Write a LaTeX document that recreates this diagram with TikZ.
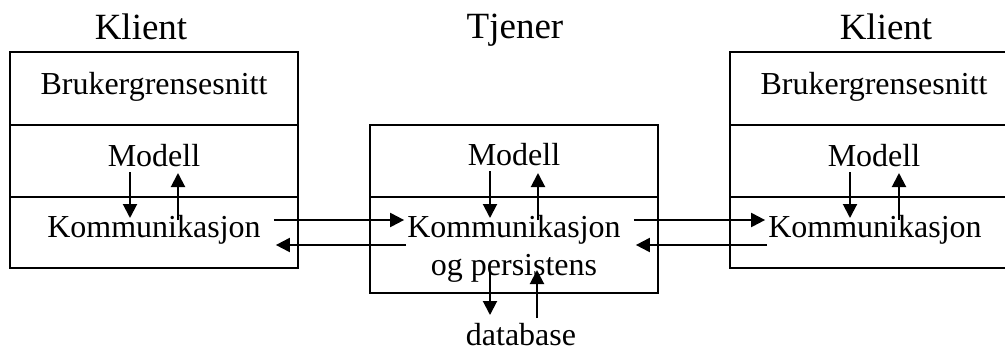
\documentclass[tikz,border=0pt]{standalone}
\usepackage{fontspec}
\setmainfont{Liberation Serif}
\usetikzlibrary{arrows.meta}

\begin{document}
\begin{tikzpicture}[x=1pt,y=-1pt,
    tekst/.style={inner sep=0pt,anchor=base,font=\fontsize{32}{38}\selectfont},
    tittel/.style={inner sep=0pt,anchor=base,font=\fontsize{37}{44}\selectfont},
    pil/.style={-{Triangle[length=14pt,width=14pt]},line width=2pt},
    boks/.style={line width=1.8pt}]
    \clip(0,0)rectangle(1005,349);

    % venstre klient
    \draw[boks](10,52)rectangle(298,268);
    \draw[boks](10,125)--(298,125);
    \draw[boks](10,197)--(298,197);
    \node[tittel](klientV)at(141,39){Klient};
    \node[tekst](brukerV)at(154,94){Brukergrensesnitt};
    \node[tekst](modellV)at(154,166){Modell};
    \node[tekst](kommV)at(154,237){Kommunikasjon};

    % tjener
    \draw[boks](370,125)rectangle(658,293);
    \draw[boks](370,197)--(658,197);
    \node[tittel](tjener)at(515,38){Tjener};
    \node[tekst](modellM)at(514,165){Modell};
    \node[tekst](kommM)at(514,237){Kommunikasjon};
    \node[tekst](persist)at(514,275){og persistens};
    \node[tekst](db)at(521,345){database};

    % hoyre klient
    \draw[boks](730,52)rectangle(1018,268);
    \draw[boks](730,125)--(1018,125);
    \draw[boks](730,197)--(1018,197);
    \node[tittel](klientH)at(886,39){Klient};
    \node[tekst](brukerH)at(874,94){Brukergrensesnitt};
    \node[tekst](modellH)at(874,166){Modell};
    \node[tekst](kommH)at(875,237){Kommunikasjon};

    % piler
    \draw[pil](modellV.base)++(-24,6)--++(0,46);
    \draw[pil](kommV.base)++(24,-17)--++(0,-47);
    \draw[pil](modellM.base)++(-24,6)--++(0,47);
    \draw[pil](kommM.base)++(24,-17)--++(0,-47);
    \draw[pil](modellH.base)++(-24,6)--++(0,46);
    \draw[pil](kommH.base)++(24,-17)--++(0,-47);
    \draw[pil](persist.base)++(-24,-5)--++(0,45);
    \draw[pil](db.base)++(16,-27)--++(0,-48);

    \draw[pil]([xshift=13pt]kommV.base east)++(0,-17)--([xshift=-3pt]kommM.base west|-0,220);
    \draw[pil]([xshift=-1pt]kommM.base west)++(0,8)--([xshift=15pt]kommV.base east|-0,245);
    \draw[pil]([xshift=13pt]kommM.base east)++(0,-17)--([xshift=-3pt]kommH.base west|-0,220);
    \draw[pil]([xshift=-1pt]kommH.base west)++(0,8)--([xshift=15pt]kommM.base east|-0,245);
\end{tikzpicture}
\end{document}
